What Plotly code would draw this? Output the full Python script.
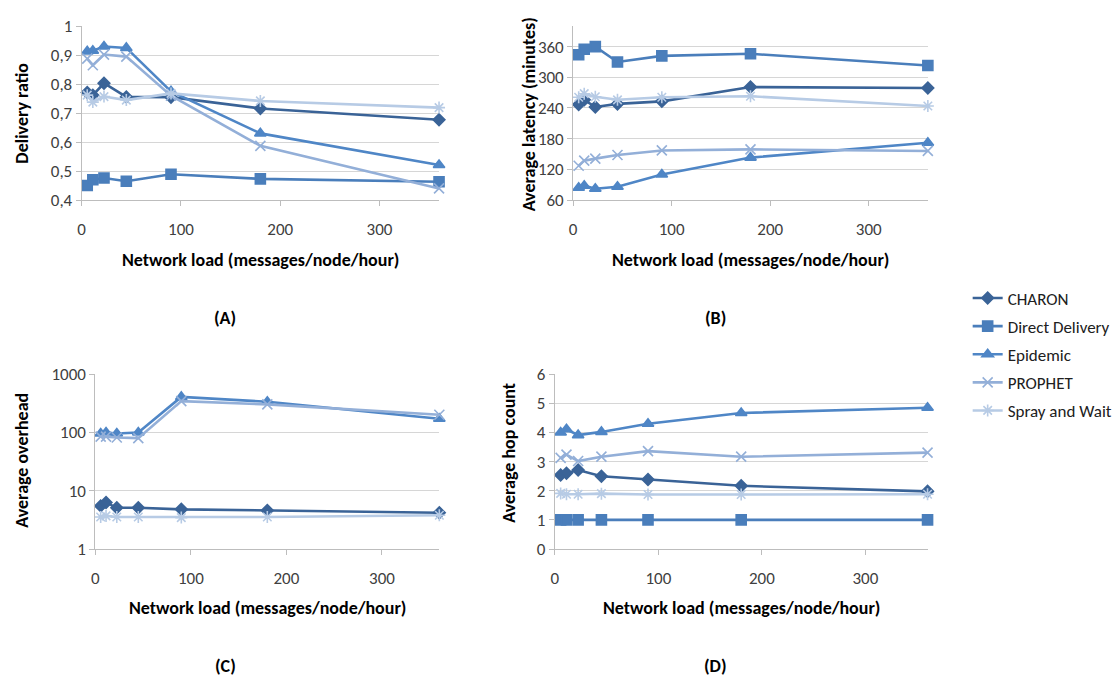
import plotly.graph_objects as go

# Network load levels (messages/node/hour)
load = [5.625, 11.25, 22.5, 45, 90, 180, 360]

protocols = ["CHARON", "Direct Delivery", "Epidemic", "PROPHET", "Spray and Wait"]

# (A) Delivery ratio
charon_delivery = [0.771, 0.762, 0.803, 0.756, 0.755, 0.716, 0.677]
direct_delivery = [0.450, 0.470, 0.476, 0.465, 0.489, 0.473, 0.463]
epidemic_delivery = [0.913, 0.915, 0.930, 0.925, 0.775, 0.630, 0.521]
prophet_delivery = [0.888, 0.865, 0.902, 0.895, 0.760, 0.587, 0.440]
spray_delivery = [0.762, 0.738, 0.757, 0.745, 0.768, 0.742, 0.719]

# (B) Average latency (minutes)
charon_latency = [247, 256, 242, 248, 253, 281, 279]
direct_latency = [344, 355, 360, 330, 342, 346, 323]
epidemic_latency = [84, 88, 82, 86, 110, 143, 172]
prophet_latency = [127, 137, 141, 148, 157, 159, 156]
spray_latency = [261, 268, 262, 256, 261, 263, 244]

# (C) Average overhead (Direct Delivery has zero overhead, not drawable on a log axis)
charon_overhead = [5.5, 6.3, 5.1, 5.1, 4.8, 4.6, 4.2]
epidemic_overhead = [96, 100, 96, 100, 408, 337, 172]
prophet_overhead = [85, 85, 82, 80, 346, 304, 202]
spray_overhead = [3.55, 3.7, 3.55, 3.55, 3.46, 3.55, 3.8]

# (D) Average hop count
charon_hops = [2.54, 2.60, 2.71, 2.50, 2.39, 2.17, 1.98]
direct_hops = [1, 1, 1, 1, 1, 1, 1]
epidemic_hops = [4.00, 4.11, 3.91, 4.02, 4.30, 4.67, 4.85]
prophet_hops = [3.13, 3.24, 3.02, 3.17, 3.36, 3.17, 3.31]
spray_hops = [1.91, 1.88, 1.88, 1.90, 1.87, 1.87, 1.88]

ratio_ticks = [0.4, 0.5, 0.6, 0.7, 0.8, 0.9, 1.0]
ratio_ticktext = ["0,4", "0,5", "0,6", "0,7", "0,8", "0,9", "1"]
latency_ticks = [60, 120, 180, 240, 300, 360]
overhead_ticks = [1, 10, 100, 1000]
hop_ticks = [0, 1, 2, 3, 4, 5, 6]
load_ticks = [0, 100, 200, 300]

colors = ["#3A6397", "#4A7EBB", "#4F86C6", "#93AFD8", "#B7CBE5"]
symbols = ["diamond", "square", "triangle-up", "x-thin-open", "asterisk-open"]
sizes = [9, 10, 10, 10, 10]

W, H = 1118, 688
FONT = "Calibri, Carlito, Lato, sans-serif"


def px_x(p):
    return p / W


def px_y(p):
    return 1 - p / H


panels = {
    "A": dict(x=(78, 437), y=(16.7, 196), data=[charon_delivery, direct_delivery, epidemic_delivery,
                                               prophet_delivery, spray_delivery]),
    "B": dict(x=(571.7, 928), y=(16.7, 196), data=[charon_latency, direct_latency, epidemic_latency,
                                                  prophet_latency, spray_latency]),
    "C": dict(x=(91.7, 437.3), y=(375.7, 556), data=[charon_overhead, None, epidemic_overhead,
                                                    prophet_overhead, spray_overhead]),
    "D": dict(x=(553.3, 927.7), y=(375.7, 556), data=[charon_hops, direct_hops, epidemic_hops,
                                                     prophet_hops, spray_hops]),
}

fig = go.Figure()

for k, (name, panel) in enumerate(panels.items()):
    suffix = "" if k == 0 else str(k + 1)
    for i, values in enumerate(panel["data"]):
        if values is None:
            continue
        fig.add_trace(go.Scatter(
            x=load, y=values, mode="lines+markers", name=protocols[i],
            legendgroup=protocols[i], showlegend=(k == 0),
            line=dict(color=colors[i], width=2.6),
            marker=dict(symbol=symbols[i], size=sizes[i], color=colors[i],
                        line=dict(color=colors[i], width=1.6)),
            cliponaxis=False,
            xaxis="x" + suffix, yaxis="y" + suffix,
        ))

axis_common = dict(showline=True, linecolor="#BDBDBD", linewidth=1, zeroline=False,
                   ticks="outside", tickcolor="#BDBDBD", ticklen=5,
                   tickfont=dict(family=FONT, size=17, color="#404040"))

layout = dict(
    width=W, height=H, margin=dict(l=0, r=0, t=0, b=0),
    paper_bgcolor="white", plot_bgcolor="white",
    showlegend=True,
    legend=dict(x=px_x(968), y=px_y(279), xanchor="left", yanchor="top",
                traceorder="grouped", tracegroupgap=3, itemwidth=30,
                font=dict(family=FONT, size=17, color="#202020"),
                bgcolor="rgba(0,0,0,0)"),
)

yspecs = {
    "A": dict(range=[0.4, 1.0], tickvals=ratio_ticks, ticktext=ratio_ticktext),
    "B": dict(range=[60, 400], tickvals=latency_ticks),
    "C": dict(type="log", range=[0, 3], tickvals=overhead_ticks),
    "D": dict(range=[0, 6], tickvals=hop_ticks),
}

for k, (name, panel) in enumerate(panels.items()):
    suffix = "" if k == 0 else str(k + 1)
    anchor_x = "x" + suffix
    anchor_y = "y" + suffix
    layout["xaxis" + suffix] = dict(
        axis_common, domain=[px_x(panel["x"][0]), px_x(panel["x"][1])],
        range=[0, 360], tickvals=load_ticks, showgrid=False, anchor=anchor_y,
        ticklabelstandoff=9,
    )
    layout["yaxis" + suffix] = dict(
        axis_common, domain=[px_y(panel["y"][1]), px_y(panel["y"][0])],
        showgrid=True, gridcolor="#D6D6D6", gridwidth=1, anchor=anchor_x,
        **yspecs[name],
    )

fig.update_layout(**layout)

title_font = dict(family=FONT, size=18, color="black")
bold = lambda s: "<b>" + s + "</b>"

# x-axis titles and panel letters
x_titles = [(257.5, 258, "A", 222, 318), (750, 258, "B", 715, 318),
            (264.5, 617, "C", 222, 677), (740.5, 617, "D", 715, 677)]
for cx, cy, letter, lx, ly in x_titles:
    fig.add_annotation(x=px_x(cx), y=px_y(cy), xref="paper", yref="paper",
                       text=bold("Network load (messages/node/hour)"), showarrow=False,
                       font=title_font, xanchor="center", yanchor="middle")
    fig.add_annotation(x=px_x(lx), y=px_y(ly), xref="paper", yref="paper",
                       text=bold("(" + letter + ")"), showarrow=False,
                       font=title_font, xanchor="center", yanchor="middle")

# y-axis titles
y_titles = [(18, 106, "Delivery ratio"), (527, 108, "Average latency (minutes)"),
            (18, 464, "Average overhead"), (507, 457, "Average hop count")]
for cx, cy, text in y_titles:
    fig.add_annotation(x=px_x(cx), y=px_y(cy), xref="paper", yref="paper",
                       text=bold(text), showarrow=False, textangle=-90,
                       font=title_font, xanchor="center", yanchor="middle")

fig.write_html("out.html")
